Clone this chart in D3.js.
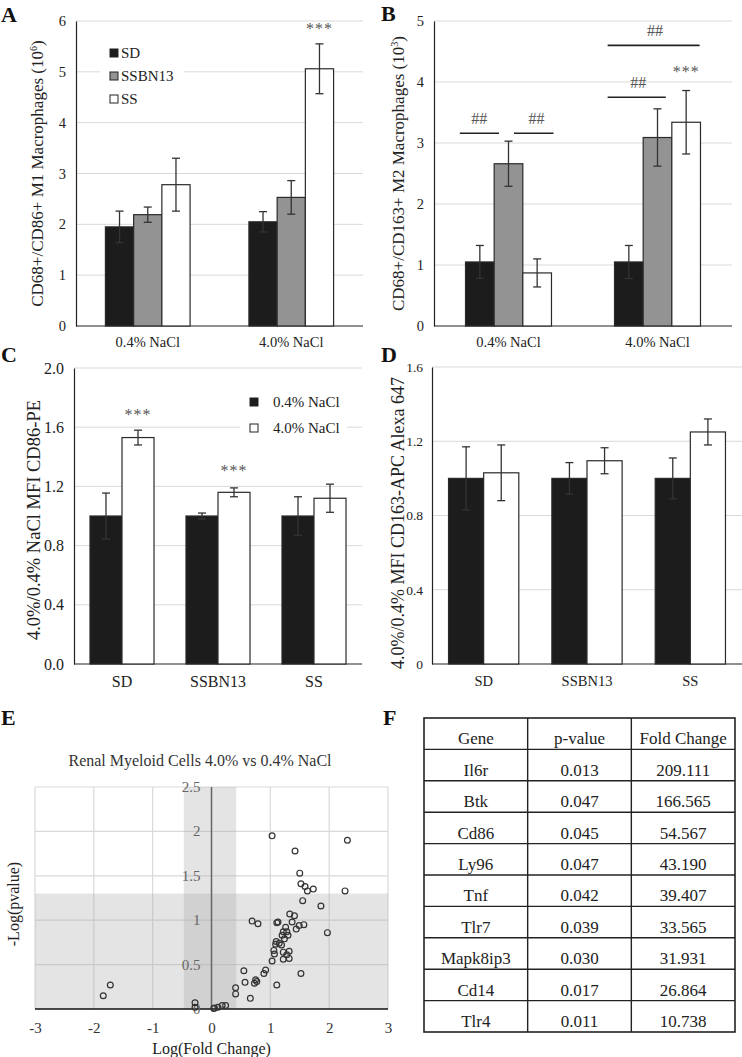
<!DOCTYPE html>
<html><head><meta charset="utf-8">
<script src="https://cdn.jsdelivr.net/npm/d3@7"></script>
<style>body{margin:0;background:#fff}svg{display:block}text{font-family:"Liberation Serif","Times New Roman",serif}</style>
</head><body>
<svg id="c" width="742" height="1057"></svg>
<script>
// ---------- DATA ----------
const groupsAB = ["0.4% NaCl", "4.0% NaCl"];
const strains = ["SD", "SSBN13", "SS"];
const m1Mean = [[1.95, 2.19, 2.78], [2.05, 2.53, 5.06]];
const m1Err  = [[0.31, 0.15, 0.52], [0.20, 0.33, 0.49]];
const m2Mean = [[1.05, 2.66, 0.87], [1.05, 3.09, 3.34]];
const m2Err  = [[0.27, 0.37, 0.23], [0.27, 0.47, 0.52]];
const ticksA = [0, 1, 2, 3, 4, 5, 6];
const ticksB = [0, 1, 2, 3, 4, 5];
const diets = ["0.4% NaCl", "4.0% NaCl"];
const cd86Mean = [[1.0, 1.53], [1.0, 1.16], [1.0, 1.12]];
const cd86Err  = [[0.155, 0.05], [0.02, 0.03], [0.13, 0.095]];
const cd163Mean = [[1.0, 1.03], [1.0, 1.095], [1.0, 1.25]];
const cd163Err  = [[0.17, 0.15], [0.085, 0.07], [0.11, 0.07]];
const ticksC = [0, 0.4, 0.8, 1.2, 1.6, 2.0];
const ticksD = [0, 0.4, 0.8, 1.2, 1.6];
const volcX = [1.03, 2.31, 1.42, 1.50, 1.52, 1.59, 1.63, 1.73, 2.27, 1.55, 1.86, 1.33, 1.41, 0.69, 0.79, 1.13, 1.11, 1.37, 1.57, 1.49, 1.44, 1.26, 1.97, 1.22, 1.28, 1.30, 1.20, 1.24, 1.10, 1.15, 1.09, 1.19, 1.06, 1.32, 1.22, 1.07, 1.28, 1.03, 1.22, 1.32, 0.55, 0.92, 0.89, 1.52, 0.57, 0.75, 0.77, 0.73, 1.11, 0.41, 0.41, 0.66, -0.28, -0.28, 0.05, 0.11, 0.18, 0.24, 0.04, -1.72, -1.84];
const volcY = [1.95, 1.90, 1.78, 1.53, 1.41, 1.38, 1.33, 1.35, 1.33, 1.22, 1.16, 1.07, 1.05, 0.99, 0.96, 0.98, 0.97, 0.98, 0.95, 0.94, 0.90, 0.92, 0.86, 0.87, 0.87, 0.83, 0.83, 0.79, 0.76, 0.74, 0.73, 0.72, 0.66, 0.65, 0.64, 0.62, 0.61, 0.54, 0.56, 0.57, 0.43, 0.44, 0.40, 0.40, 0.30, 0.33, 0.31, 0.29, 0.27, 0.24, 0.17, 0.12, 0.07, 0.02, 0.01, 0.02, 0.04, 0.04, 0.005, 0.27, 0.15];
const volcXTicks = [-3, -2, -1, 0, 1, 2, 3];
const volcYTicks = [0, 0.5, 1, 1.5, 2, 2.5];
const pThreshold = 1.3;
const fcBand = [-0.47, 0.42];
const tableHead = ["Gene", "p-value", "Fold Change"];
const genes = ["Il6r", "Btk", "Cd86", "Ly96", "Tnf", "Tlr7", "Mapk8ip3", "Cd14", "Tlr4"];
const pvals = ["0.013", "0.047", "0.045", "0.047", "0.042", "0.039", "0.030", "0.017", "0.011"];
const folds = ["209.111", "166.565", "54.567", "43.190", "39.407", "33.565", "31.931", "26.864", "10.738"];

// ---------- STYLE ----------
const svg = d3.select("#c");
const FILL3 = ["#1c1c1c", "#939393", "#ffffff"];
const FILL2 = ["#1c1c1c", "#ffffff"];
const GRID = "#d9d9d9";
const TXT = "#222";

function panelLabel(t, x, y) {
  svg.append("text").attr("x", x).attr("y", y).attr("font-size", 22).attr("font-weight", "bold").attr("fill", "#111").text(t);
}

function barPanel(o) {
  const g = svg.append("g");
  const x0 = d3.scaleBand().domain(o.groups).range([o.x0, o.x1]).paddingInner(o.pad).paddingOuter(o.pad / 2);
  const x1 = d3.scaleBand().domain(o.series).range([0, x0.bandwidth()]);
  const y = d3.scaleLinear().domain(o.domain).range([o.yb, o.yt]);
  g.selectAll(".grid").data(o.ticks.filter(t => t > 0)).enter().append("line")
    .attr("x1", o.x0).attr("x2", o.x1).attr("y1", d => y(d)).attr("y2", d => y(d))
    .attr("stroke", GRID).attr("stroke-width", 1);
  if (o.legend) {
    g.append("rect").attr("x", o.legend.bx0).attr("width", o.legend.bx1 - o.legend.bx0)
      .attr("y", o.legend.y0 - 10).attr("height", o.legend.dy * o.series.length + 2).attr("fill", "#fff");
  }
  const ya = d3.axisLeft(y).tickValues(o.ticks).tickSize(0).tickPadding(o.tickPad).tickFormat(o.fmt);
  const yg = g.append("g").attr("transform", `translate(${o.x0},0)`).call(ya);
  yg.select(".domain").attr("stroke", "#222").attr("stroke-width", 1.2);
  yg.selectAll("text").attr("font-size", o.tickFs).attr("fill", TXT).attr("font-family", "Liberation Serif");
  const xa = d3.axisBottom(x0).tickSize(0).tickPadding(o.xPad);
  const xg = g.append("g").attr("transform", `translate(0,${o.yb})`).call(xa);
  xg.select(".domain").attr("d", `M${o.x0},0H${o.x1}`).attr("stroke", "#222").attr("stroke-width", 1.2);
  xg.selectAll("text").attr("font-size", o.xFs).attr("fill", TXT).attr("font-family", "Liberation Serif");
  o.groups.forEach((grp, gi) => {
    o.series.forEach((s, si) => {
      const v = o.mean[gi][si], e = o.err[gi][si];
      const bx = x0(grp) + x1(s), bw = x1.bandwidth();
      g.append("rect").attr("x", bx).attr("y", y(v)).attr("width", bw).attr("height", y(0) - y(v))
        .attr("fill", o.fills[si]).attr("stroke", "#2a2a2a").attr("stroke-width", 1.2);
      const cx = bx + bw / 2;
      const col = "#333";
      g.append("line").attr("x1", cx).attr("x2", cx).attr("y1", y(v + e)).attr("y2", y(v - e)).attr("stroke", col).attr("stroke-width", 1.3);
      g.append("line").attr("x1", cx - 4).attr("x2", cx + 4).attr("y1", y(v + e)).attr("y2", y(v + e)).attr("stroke", col).attr("stroke-width", 1.3);
      g.append("line").attr("x1", cx - 4).attr("x2", cx + 4).attr("y1", y(v - e)).attr("y2", y(v - e)).attr("stroke", col).attr("stroke-width", 1.3);
    });
  });
  (o.stars || []).forEach(st => {
    const bx = x0(o.groups[st[0]]) + x1(o.series[st[1]]) + x1.bandwidth() / 2;
    g.append("text").attr("x", bx).attr("y", y(st[2])).attr("text-anchor", "middle").attr("font-size", 16)
      .attr("fill", "#555").attr("letter-spacing", 1).text("***");
  });
  (o.sig || []).forEach(sg => {
    const base = x0(o.groups[sg[0]]), bw = x1.bandwidth();
    g.append("line").attr("x1", base + sg[1] * bw).attr("x2", base + sg[2] * bw).attr("y1", y(sg[3])).attr("y2", y(sg[3]))
      .attr("stroke", "#222").attr("stroke-width", 1.6);
    g.append("text").attr("x", base + sg[4] * bw).attr("y", y(sg[3]) - 9).attr("text-anchor", "middle")
      .attr("font-size", 16).attr("fill", "#555").text("##");
  });
  if (o.legend) {
    o.series.forEach((s, si) => {
      const ly = o.legend.y0 + si * o.legend.dy;
      g.append("rect").attr("x", o.legend.sx).attr("y", ly - 4).attr("width", 8).attr("height", 8)
        .attr("fill", o.fills[si]).attr("stroke", "#222").attr("stroke-width", 1);
      g.append("text").attr("x", o.legend.tx).attr("y", ly + 5).attr("font-size", 15).attr("fill", TXT).text(s);
    });
  }
  const cy = o.titleY != null ? o.titleY : (o.yb + o.yt) / 2;
  const tt = g.append("text").attr("transform", `translate(${o.titleX},${cy}) rotate(-90)`)
    .attr("text-anchor", "middle").attr("font-size", o.titleFs).attr("fill", TXT);
  tt.append("tspan").text(o.title[0]);
  if (o.title[1]) {
    tt.append("tspan").attr("font-size", o.titleFs * 0.6).attr("dy", -6).text(o.title[1]);
    tt.append("tspan").attr("dy", 6).text(o.title[2]);
  }
}

// A
panelLabel("A", 1, 22);
barPanel({groups: groupsAB, series: strains, mean: m1Mean, err: m1Err, fills: FILL3,
  x0: 76, x1: 363, pad: 0.41, domain: [0, 6], yb: 326, yt: 21, ticks: ticksA, fmt: d3.format("d"),
  tickPad: 10, xPad: 11, tickFs: 14.5, xFs: 14.5, titleFs: 17, titleX: 43, title: ["CD68+/CD86+ M1 Macrophages (10", "6", ")"],
  stars: [[1, 2, 5.75]],
  legend: {bx0: 100, bx1: 184, y0: 53, dy: 23, sx: 110, tx: 121}});
// B
panelLabel("B", 381, 21);
barPanel({groups: groupsAB, series: strains, mean: m2Mean, err: m2Err, fills: FILL3,
  x0: 434, x1: 732, pad: 0.423, domain: [0, 5], yb: 326, yt: 21, ticks: ticksB, fmt: d3.format("d"),
  tickPad: 10, xPad: 11, tickFs: 14.5, xFs: 14.5, titleFs: 17, titleX: 404, title: ["CD68+/CD163+ M2 Macrophages (10", "3", ")"],
  stars: [[1, 2, 4.08]],
  sig: [[0, -0.2, 1.17, 3.16, 0.48], [0, 1.69, 3.07, 3.16, 2.48], [1, -0.24, 1.79, 3.75, 0.83], [1, -0.24, 2.97, 4.6, 1.41]]});
// C
panelLabel("C", 1, 362);
barPanel({groups: strains, series: diets, mean: cd86Mean, err: cd86Err, fills: FILL2,
  x0: 74, x1: 362, pad: 0.333, domain: [0, 2], yb: 664, yt: 368, ticks: ticksC, fmt: d3.format(".1f"),
  tickPad: 10, xPad: 12, tickFs: 16, xFs: 16, titleFs: 18.5, titleX: 40, titleY: 520, title: ["4.0%/0.4% NaCl MFI CD86-PE"],
  stars: [[0, 1, 1.65], [1, 1, 1.27]],
  legend: {bx0: 240, bx1: 347, y0: 402, dy: 26, sx: 250, tx: 273}});
// D
panelLabel("D", 381, 362);
barPanel({groups: strains, series: diets, mean: cd163Mean, err: cd163Err, fills: FILL2,
  x0: 432, x1: 742, pad: 0.32, domain: [0, 1.6], yb: 664, yt: 367, ticks: ticksD, fmt: d => d === 0 ? "0" : d3.format(".1f")(d),
  tickPad: 9, xPad: 12, tickFs: 13.5, xFs: 14.5, titleFs: 18, titleX: 404, titleY: 523, title: ["4.0%/0.4% MFI CD163-APC Alexa 647"]});

// ---------- E: volcano ----------
panelLabel("E", 1, 725);
(function () {
  const g = svg.append("g");
  const x = d3.scaleLinear().domain([-3, 3]).range([35, 388]);
  const y = d3.scaleLinear().domain([0, 2.5]).range([1009, 787]);
  g.append("text").attr("x", 200).attr("y", 766).attr("text-anchor", "middle").attr("font-size", 16).attr("fill", "#333")
    .text("Renal Myeloid Cells 4.0% vs 0.4% NaCl");
  g.selectAll(".vg").data(volcXTicks).enter().append("line").attr("x1", d => x(d)).attr("x2", d => x(d))
    .attr("y1", y(0)).attr("y2", y(2.5)).attr("stroke", GRID).attr("stroke-width", 1.2);
  g.selectAll(".hg").data(volcYTicks.filter(d => d > 0)).enter().append("line").attr("x1", x(-3)).attr("x2", x(3))
    .attr("y1", d => y(d)).attr("y2", d => y(d)).attr("stroke", GRID).attr("stroke-width", 1.2);
  g.append("rect").attr("x", x(-3)).attr("width", x(3) - x(-3)).attr("y", y(pThreshold)).attr("height", y(0) - y(pThreshold))
    .attr("fill", "rgba(170,170,170,0.32)");
  g.append("rect").attr("x", x(fcBand[0])).attr("width", x(fcBand[1]) - x(fcBand[0])).attr("y", y(2.5)).attr("height", y(0) - y(2.5))
    .attr("fill", "rgba(170,170,170,0.32)");
  g.append("line").attr("x1", x(0)).attr("x2", x(0)).attr("y1", y(0)).attr("y2", y(2.5)).attr("stroke", "#666").attr("stroke-width", 1.5);
  g.append("line").attr("x1", x(-3)).attr("x2", x(3)).attr("y1", y(0)).attr("y2", y(0)).attr("stroke", "#111").attr("stroke-width", 1.5);
  volcYTicks.forEach(t => {
    g.append("text").attr("x", x(0) - 11).attr("y", y(t) + 5).attr("text-anchor", "end").attr("font-size", 15)
      .attr("fill", "#666").text(t);
  });
  const xa = d3.axisBottom(x).tickValues(volcXTicks).tickSize(0).tickPadding(13).tickFormat(d3.format("d"));
  const xg = g.append("g").attr("transform", `translate(0,${y(0)})`).call(xa);
  xg.select(".domain").remove();
  xg.selectAll("text").attr("font-size", 15).attr("fill", "#333").attr("font-family", "Liberation Serif").text(d => d < 0 ? "-" + Math.abs(d) : d);
  g.selectAll(".pt").data(volcX.map((v, i) => [v, volcY[i]])).enter().append("circle")
    .attr("cx", d => x(d[0])).attr("cy", d => y(d[1])).attr("r", 2.9)
    .attr("fill", "none").attr("stroke", "#333").attr("stroke-width", 1.2);
  g.append("text").attr("x", x(0)).attr("y", 1054).attr("text-anchor", "middle").attr("font-size", 16).attr("fill", TXT).text("Log(Fold Change)");
  g.append("text").attr("transform", `translate(19,${(y(0) + y(2.5)) / 2 + 6}) rotate(-90)`).attr("text-anchor", "middle")
    .attr("font-size", 16).attr("fill", TXT).text("-Log(pvalue)");
})();

// ---------- F: table ----------
panelLabel("F", 383, 725);
(function () {
  const g = svg.append("g");
  const cols = d3.scaleBand().domain([0, 1, 2]).range([424, 735]);
  const rows = d3.scaleBand().domain(d3.range(genes.length + 1)).range([718, 1032]);
  const data = [tableHead].concat(genes.map((gname, i) => [gname, pvals[i], folds[i]]));
  data.forEach((r, ri) => {
    r.forEach((c, ci) => {
      g.append("text").attr("x", cols(ci) + cols.bandwidth() / 2).attr("y", rows(ri) + rows.bandwidth() - 5)
        .attr("text-anchor", "middle").attr("font-size", 17).attr("fill", "#222").text(c);
    });
  });
  g.append("rect").attr("x", 424).attr("y", 718).attr("width", 735 - 424).attr("height", 1032 - 718)
    .attr("fill", "none").attr("stroke", "#222").attr("stroke-width", 1.6);
  d3.range(1, genes.length + 1).forEach(ri => {
    g.append("line").attr("x1", 424).attr("x2", 735).attr("y1", rows(ri)).attr("y2", rows(ri)).attr("stroke", "#222").attr("stroke-width", 1.4);
  });
  [1, 2].forEach(ci => {
    g.append("line").attr("x1", cols(ci)).attr("x2", cols(ci)).attr("y1", 718).attr("y2", 1032).attr("stroke", "#222").attr("stroke-width", 1.4);
  });
})();
</script>
</body></html>
